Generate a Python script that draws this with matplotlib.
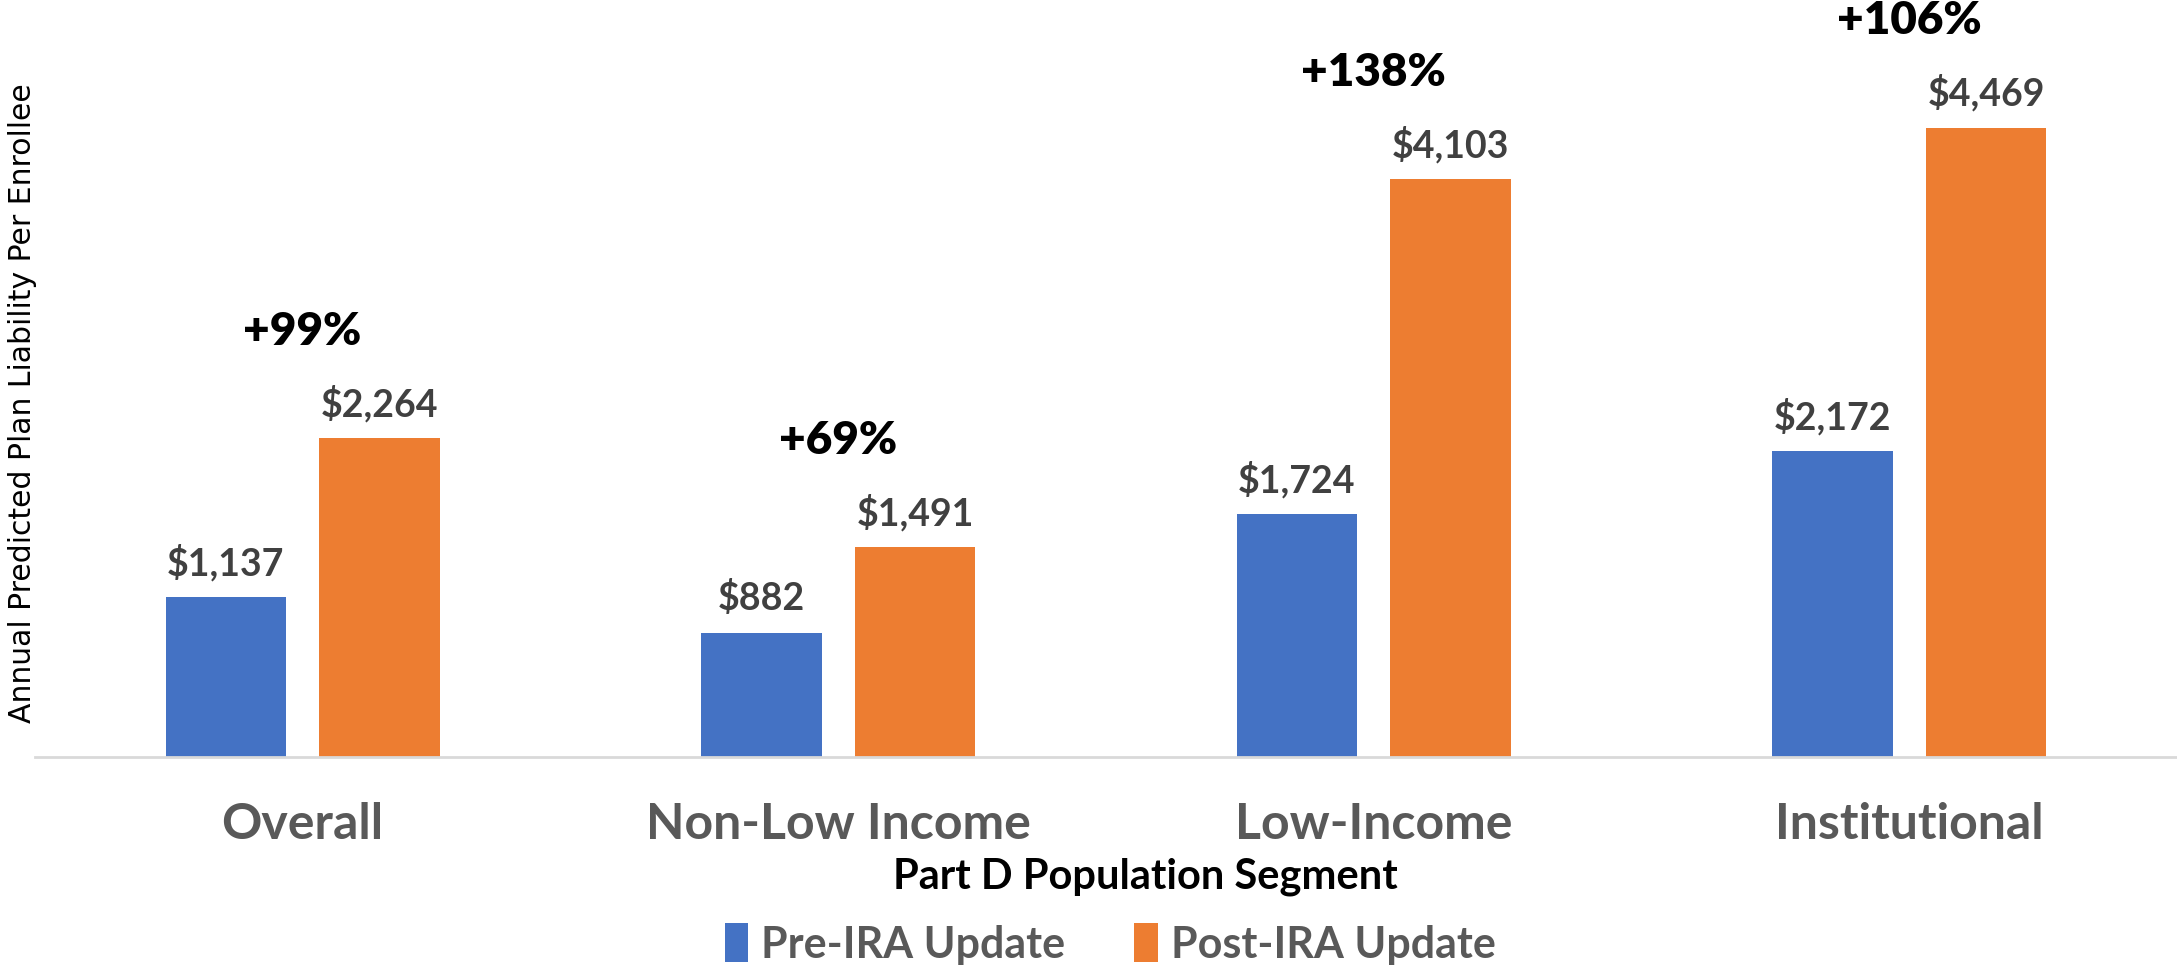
import matplotlib
matplotlib.use("Agg")
import matplotlib.pyplot as plt
import numpy as np

categories = ["Overall", "Non-Low Income", "Low-Income", "Institutional"]
pre_ira = [1137, 882, 1724, 2172]
post_ira = [2264, 1491, 4103, 4469]
pct_change = ["+99%", "+69%", "+138%", "+106%"]
series_names = ["Pre-IRA Update", "Post-IRA Update"]

BLUE = "#4472C4"
ORANGE = "#ED7D31"
GRAY = "#595959"
DGRAY = "#404040"
FONT = ["Lato", "DejaVu Sans"]

fig = plt.figure(figsize=(21.77, 9.66), dpi=100)
ax = fig.add_axes([0.016, 0.216, 0.984, 0.784])

x = np.arange(len(categories))
w = 0.225
off = 0.1435
b1 = ax.bar(x - off, pre_ira, w, color=BLUE, label=series_names[0], zorder=2)
b2 = ax.bar(x + off, post_ira, w, color=ORANGE, label=series_names[1], zorder=2)

ax.set_xlim(-0.5, 3.5)
ax.set_ylim(0, 5375)

for bars, vals in ((b1, pre_ira), (b2, post_ira)):
    for r, v in zip(bars, vals):
        ax.annotate(f"${v:,}", (r.get_x() + r.get_width() / 2, v),
                    xytext=(0, 25), textcoords="offset points",
                    ha="center", va="center", fontsize=27, fontweight="bold",
                    color=DGRAY, family=FONT, annotation_clip=False)

for xi, v, p in zip(x, post_ira, pct_change):
    ax.annotate(p, (xi, v), xytext=(0, 77), textcoords="offset points",
                ha="center", va="center", fontsize=33, fontweight="heavy",
                color="black", family=FONT, annotation_clip=False)

for s in ("top", "right", "left"):
    ax.spines[s].set_visible(False)
ax.spines["bottom"].set_color("#D9D9D9")
ax.spines["bottom"].set_linewidth(2)
ax.set_yticks([])
ax.set_xticks(x)
ax.set_xticklabels(categories, fontsize=36, fontweight="bold", color=GRAY, family=FONT)
ax.tick_params(axis="x", length=0, pad=32)

ax.set_ylabel("Annual Predicted Plan Liability Per Enrollee", fontsize=21.5,
              family="DejaVu Sans", color="black")
ax.yaxis.set_label_coords(0.001, 0.468)

fig.text(0.526, 1 - 877 / 966, "Part D Population Segment", ha="center", va="center",
         fontsize=30, fontweight="bold", color="black", family=FONT)

leg = fig.legend(handles=[b1, b2], labels=series_names, loc="center",
                 bbox_to_anchor=(0.51, 1 - 944 / 966), ncol=2, frameon=False,
                 prop={"family": FONT, "size": 31, "weight": "bold"},
                 handlelength=0.55, handleheight=1.0, handletextpad=0.3,
                 columnspacing=1.6, labelcolor=GRAY)

fig.savefig("out.png", dpi=100)
